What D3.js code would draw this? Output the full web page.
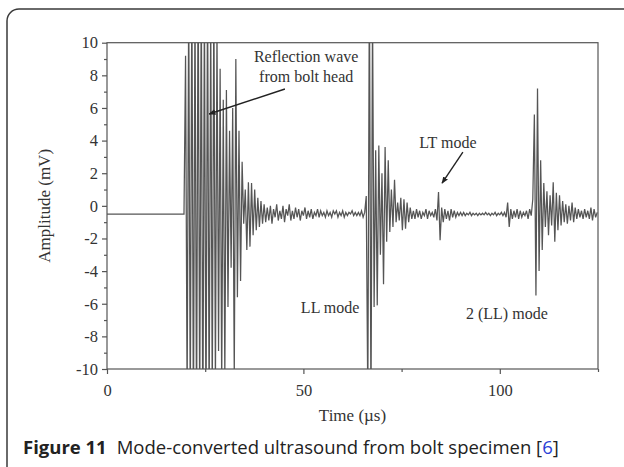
<!DOCTYPE html>
<html>
<head>
<meta charset="utf-8">
<script src="https://cdn.jsdelivr.net/npm/d3@7"></script>
<style>
  body { margin: 0; background: #fff; }
  svg { display: block; }
</style>
</head>
<body>
<svg id="chart"></svg>
<script>
// Axis ticks
var xTicks = [0, 50, 100];
var xMinorTicks = [25, 75, 125];
var yTicks = [-10, -8, -6, -4, -2, 0, 2, 4, 6, 8, 10];
var yMinorTicks = [-9, -7, -5, -3, -1, 1, 3, 5, 7, 9];

// Signal before the trigger (flat line at the offset)
var preTrigger = [[0, -0.5]];

// Sampled waveform, one value every 0.4 us from 19.6 us
var sampleStart = 19.6;
var sampleStep = 0.4;

// reflection from bolt head, 19.6 - 39.6 us
var headEcho = [-0.5, 9.2, -12, 13, -13, 14, -14, 13, -14, 15,
  -13, 14, -15, 13, -14, 14, -13, 12, -12, 13,
  -11, 11, -8.9, 8.4, -11, 6.5, -10.5, 7.1, -6.2, 4.6,
  -3.8, 6.0, -10.5, 9.0, -5.6, 4.6, -4.6, 2.7, -1.1, 1.0,
  -2.7, 1.45, -2.5, 1.4, -1.8, 1.0, -1.5, 0.5, -1.3, 0.3, -1.1];

// noise, 40.0 - 65.6 us
var noiseA = [0.1, -1.0, -0.1, -0.9, 0.0, -1.1, -0.2, -0.7, 0.1, -0.9,
  -0.3, -0.8, 0.0, -1.0, -0.2, -0.6, 0.1, -0.9, -0.3, -0.8,
  -0.1, -0.7, -0.2, -0.9, -0.3, -0.6, -0.1, -0.8, -0.3, -0.7,
  -0.2, -0.8, -0.4, -0.6, -0.2, -0.7, -0.3, -0.6, -0.4, -0.7,
  -0.3, -0.6, -0.4, -0.7, -0.3, -0.5, -0.3, -0.7, -0.4, -0.6,
  -0.3, -0.7, -0.4, -0.6, -0.4, -0.5, -0.3, -0.6, -0.4, -0.6,
  -0.4, -0.6, -0.3, -0.7, -0.4];

// LL mode, 66.0 - 77.6 us
var llEcho = [0.6, -12, 14, -13, 12, -6.2, 3.4, -6.1, 3.7, -3.0,
  2.0, -4.8, 3.6, -2.2, 2.8, -1.6, 1.0, -1.3, 1.6, -1.0,
  0.2, -0.9, 0.5, -1.5, 0.4, -1.4, 0.2, -1.0, -0.1, -0.8];

// noise with LT mode, 78.0 - 107.6 us
var noiseB = [-0.3, -0.8, -0.2, -0.7, -0.3, -0.8, -0.4, -0.6, -0.2, -0.8,
  -0.3, -0.6, -0.4, -0.7, -0.2, -0.9, 0.85, -2.1, -0.1, -1.0,
  -0.2, -0.8, -0.3, -0.9, -0.2, -0.7, -0.3, -0.7, -0.4, -0.6,
  -0.4, -0.6, -0.4, -0.6, -0.45, -0.55, -0.4, -0.6, -0.45, -0.55,
  -0.45, -0.6, -0.45, -0.55, -0.45, -0.55, -0.4, -0.55, -0.45, -0.6,
  -0.45, -0.55, -0.4, -0.6, -0.45, -0.55, -0.4, -0.6, -0.4, -0.7,
  0.2, -1.3, -0.2, -0.8, -0.3, -0.7, -0.2, -0.8, -0.3, -0.7,
  -0.4, -0.6, -0.3, -0.8, -0.2];

// 2 (LL) mode, 108.0 - 124.8 us
var llEcho2 = [-0.6, 0.4, 5.6, -5.5, 7.2, -4.0, 2.8, -2.7, 1.4, -1.3,
  0.9, -1.8, 0.65, -1.2, 1.45, -2.2, 0.8, -1.5, 0.65, -1.2,
  0.3, -1.0, 0.1, -1.1, 0.0, -0.9, 0.2, -1.0, -0.1, -0.8,
  -0.2, -0.7, -0.3, -0.8, -0.2, -0.7, -0.3, -0.8, -0.1, -0.9,
  -0.2, -0.7, -0.4];

// Annotations (text in data units: time, amplitude)
var labels = [
  { text: "Reflection wave", t: 50.7, v: 8.82 },
  { text: "from bolt head", t: 50.7, v: 7.59 },
  { text: "LT mode", t: 86.8, v: 3.54 },
  { text: "LL mode", t: 56.8, v: -6.58 },
  { text: "2 (LL) mode", t: 101.8, v: -6.95 }
];
var arrows = [
  { from: [45.3, 7.16], to: [26.0, 5.63] },
  { from: [90.6, 3.29], to: [85.3, 1.39] }
];

var width = 624;
var height = 467;
var plot = { left: 107, right: 598, top: 42.7, bottom: 369 };

var svg = d3.select("#chart")
  .attr("width", width)
  .attr("height", height);

// Rounded figure border
svg.append("rect")
  .attr("x", 7).attr("y", 9)
  .attr("width", 660).attr("height", 470)
  .attr("rx", 12)
  .attr("fill", "none")
  .attr("stroke", "#3a3a3a")
  .attr("stroke-width", 1.5);

var x = d3.scaleLinear().domain([0, 125]).range([plot.left, plot.right]);
var y = d3.scaleLinear().domain([-10, 10]).range([plot.bottom, plot.top]);

svg.append("defs").append("clipPath")
  .attr("id", "plot-clip")
  .append("rect")
  .attr("x", plot.left).attr("y", plot.top)
  .attr("width", plot.right - plot.left)
  .attr("height", plot.bottom - plot.top);

svg.select("defs").append("marker")
  .attr("id", "head")
  .attr("viewBox", "0 0 10 10")
  .attr("refX", 9).attr("refY", 5)
  .attr("markerWidth", 7).attr("markerHeight", 7)
  .attr("markerUnits", "userSpaceOnUse")
  .attr("orient", "auto")
  .append("path")
  .attr("d", "M0,1 L10,5 L0,9 Z")
  .attr("fill", "#222");

// Build the waveform points
var samples = headEcho.concat(noiseA, llEcho, noiseB, llEcho2);
var points = preTrigger.concat(samples.map(function(v, i) {
  return [sampleStart + i * sampleStep, v];
}));

var line = d3.line()
  .x(function(d) { return x(d[0]); })
  .y(function(d) { return y(d[1]); });

svg.append("path")
  .datum(points)
  .attr("clip-path", "url(#plot-clip)")
  .attr("d", line)
  .attr("fill", "none")
  .attr("stroke", "#555")
  .attr("stroke-width", 1.25);

// Frame
svg.append("rect")
  .attr("x", plot.left).attr("y", plot.top)
  .attr("width", plot.right - plot.left)
  .attr("height", plot.bottom - plot.top)
  .attr("fill", "none")
  .attr("stroke", "#555")
  .attr("stroke-width", 1.2);

var tickFont = "Liberation Serif, Times New Roman, serif";

// Axes
var gx = svg.append("g").attr("transform", "translate(0," + plot.bottom + ")");
gx.call(d3.axisBottom(x).tickValues(xTicks).tickSize(5).tickSizeOuter(0).tickPadding(10)
  .tickFormat(function(d) { return String(d); }));
gx.append("g").call(d3.axisBottom(x).tickValues(xMinorTicks).tickSize(3).tickSizeOuter(0).tickFormat(""));

var gy = svg.append("g").attr("transform", "translate(" + plot.left + ",0)");
gy.call(d3.axisLeft(y).tickValues(yTicks).tickSize(5).tickSizeOuter(0).tickPadding(4)
  .tickFormat(function(d) { return String(d); }));
gy.append("g").call(d3.axisLeft(y).tickValues(yMinorTicks).tickSize(3).tickSizeOuter(0).tickFormat(""));

svg.selectAll(".domain").remove();
svg.selectAll(".tick line").attr("stroke", "#555").attr("stroke-width", 1.2);
svg.selectAll(".tick text")
  .attr("fill", "#333")
  .style("font-family", tickFont)
  .style("font-size", "16.5px");

// Axis titles
svg.append("text")
  .attr("x", (plot.left + plot.right) / 2)
  .attr("y", 421)
  .attr("text-anchor", "middle")
  .attr("fill", "#333")
  .style("font-family", tickFont)
  .style("font-size", "17px")
  .text("Time (\u00b5s)");

svg.append("text")
  .attr("transform", "translate(50," + (plot.top + plot.bottom) / 2 + ") rotate(-90)")
  .attr("text-anchor", "middle")
  .attr("fill", "#333")
  .style("font-family", tickFont)
  .style("font-size", "17px")
  .text("Amplitude (mV)");

// Annotations
svg.selectAll(".note")
  .data(labels)
  .enter()
  .append("text")
  .attr("class", "note")
  .attr("x", function(d) { return x(d.t); })
  .attr("y", function(d) { return y(d.v); })
  .attr("text-anchor", "middle")
  .attr("fill", "#333")
  .style("font-family", tickFont)
  .style("font-size", "16px")
  .text(function(d) { return d.text; });

svg.selectAll(".arrow")
  .data(arrows)
  .enter()
  .append("line")
  .attr("class", "arrow")
  .attr("x1", function(d) { return x(d.from[0]); })
  .attr("y1", function(d) { return y(d.from[1]); })
  .attr("x2", function(d) { return x(d.to[0]); })
  .attr("y2", function(d) { return y(d.to[1]); })
  .attr("stroke", "#222")
  .attr("stroke-width", 1.4)
  .attr("marker-end", "url(#head)");

// Caption
var caption = svg.append("text")
  .attr("x", 23)
  .attr("y", 454)
  .attr("fill", "#222")
  .style("font-family", "Open Sans, Noto Sans, sans-serif")
  .style("font-size", "18.5px");
caption.append("tspan").style("font-weight", "bold").text("Figure 11");
caption.append("tspan").attr("dx", 10).text("Mode-converted ultrasound from bolt specimen [");
caption.append("tspan").attr("fill", "#2a3fd6").text("6");
caption.append("tspan").text("]");
</script>
</body>
</html>
